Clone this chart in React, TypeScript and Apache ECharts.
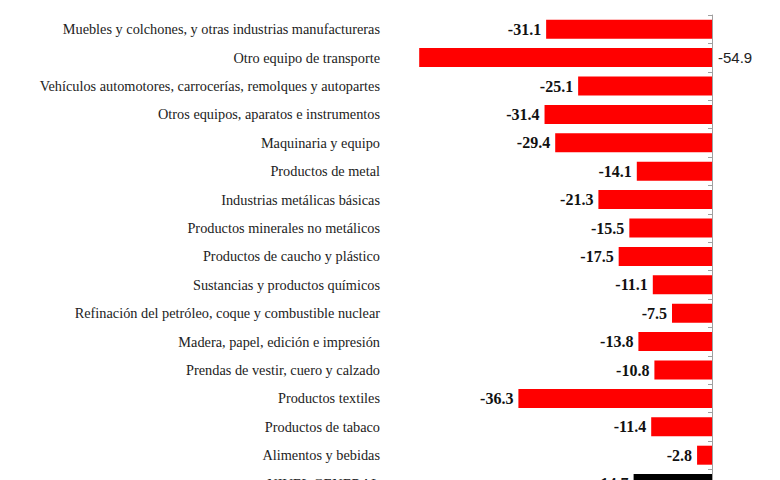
import React, { useEffect, useRef } from "react";
import * as echarts from "echarts";

const categories = [
  "Muebles y colchones, y otras industrias manufactureras",
  "Otro equipo de transporte",
  "Vehículos automotores, carrocerías, remolques y autopartes",
  "Otros equipos, aparatos e instrumentos",
  "Maquinaria y equipo",
  "Productos de metal",
  "Industrias metálicas básicas",
  "Productos minerales no metálicos",
  "Productos de caucho y plástico",
  "Sustancias y productos químicos",
  "Refinación del petróleo, coque y combustible nuclear",
  "Madera, papel, edición e impresión",
  "Prendas de vestir, cuero y calzado",
  "Productos textiles",
  "Productos de tabaco",
  "Alimentos y bebidas",
  "NIVEL GENERAL",
];

const values = [
  -31.1, -54.9, -25.1, -31.4, -29.4, -14.1, -21.3, -15.5, -17.5, -11.1, -7.5,
  -13.8, -10.8, -36.3, -11.4, -2.8, -14.7,
];

const totalCategory = "NIVEL GENERAL";
const outsideLabelCategory = "Otro equipo de transporte";

export default function App() {
  const ref = useRef<HTMLDivElement>(null);

  useEffect(() => {
    if (!ref.current) return;
    const chart = echarts.init(ref.current, undefined, { renderer: "svg" });

    const data = values.map((v, i) => {
      const cat = categories[i];
      const item: any = { value: v };
      if (cat === totalCategory) {
        item.itemStyle = { color: "#000000" };
      }
      if (cat === outsideLabelCategory) {
        item.label = {
          position: "right",
          distance: 6,
          fontFamily: "Liberation Sans",
          fontWeight: "normal",
          fontSize: 15,
          color: "#222222",
        };
      }
      return item;
    });

    chart.setOption({
      animation: false,
      backgroundColor: "#ffffff",
      grid: { left: 392, right: 68, top: 15, bottom: 510 - 15 - 482.8 },
      xAxis: {
        type: "value",
        min: -60,
        max: 0,
        show: false,
      },
      yAxis: [
        {
          type: "category",
          data: categories,
          inverse: true,
          position: "right",
          axisLine: { show: true, lineStyle: { color: "#a0a0a0", width: 1 } },
          axisTick: {
            show: true,
            inside: true,
            length: 4,
            lineStyle: { color: "#a0a0a0" },
          },
          axisLabel: { show: false },
          splitLine: { show: false },
        },
        {
          type: "category",
          data: categories,
          inverse: true,
          position: "left",
          axisLine: { show: false },
          axisTick: { show: false },
          axisLabel: {
            show: true,
            margin: 12,
            fontFamily: "Liberation Serif",
            fontSize: 14.3,
            color: "#222222",
          },
          splitLine: { show: false },
        },
      ],
      series: [
        {
          type: "bar",
          yAxisIndex: 0,
          data,
          barWidth: 19,
          itemStyle: { color: "#ff0000" },
          label: {
            show: true,
            position: "left",
            distance: 5,
            fontFamily: "Liberation Serif",
            fontWeight: "bold",
            fontSize: 16,
            color: "#111111",
            formatter: (p: any) => Number(p.value).toFixed(1),
          },
        },
      ],
    });

    return () => chart.dispose();
  }, []);

  return (
    <div
      style={{
        position: "fixed",
        left: 0,
        top: 0,
        width: 780,
        height: 480,
        overflow: "hidden",
        background: "#fff",
      }}
    >
      <div ref={ref} style={{ width: 780, height: 510 }} />
    </div>
  );
}
